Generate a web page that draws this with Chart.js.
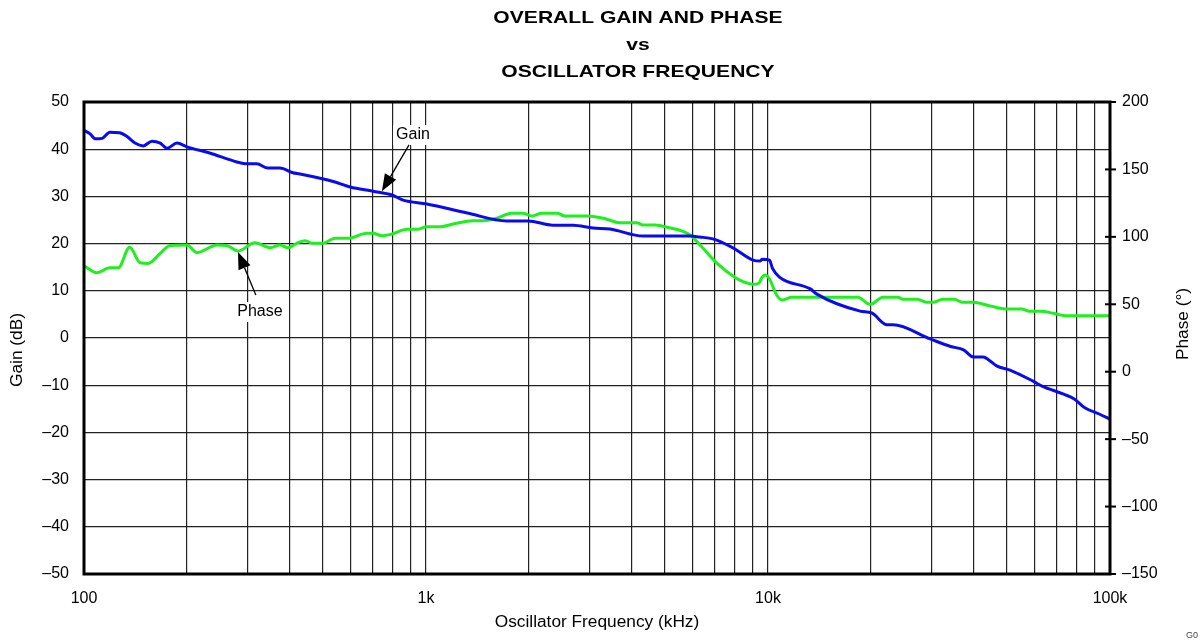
<!DOCTYPE html>
<html>
<head>
<meta charset="utf-8">
<script src="https://cdn.jsdelivr.net/npm/chart.js@4"></script>
<style>
  body { margin: 0; background: #fff; }
  #wrap { width: 1198px; height: 642px; }
</style>
</head>
<body>
<div id="wrap"><canvas id="myChart"></canvas></div>
<script>
// data (frequency in Hz)
const gainFreq = [100, 104, 108, 113, 119, 127, 133, 141, 149, 158, 167, 175, 187, 200, 233, 280, 300, 320, 345, 374, 408, 428, 542, 600, 700, 795, 857, 1006, 1320, 1720, 1990, 2350, 2690, 3080, 3450, 4310, 5920, 6300, 6900, 7900, 9040, 9500, 9600, 10100, 10300, 10800, 13300, 13900, 18600, 20100, 22300, 23200, 29800, 34200, 37300, 39800, 42600, 44300, 46600, 51000, 59400, 63300, 73200, 78600, 84400, 93000, 100000];
const gainDb = [44.0, 43.3, 42.2, 42.3, 43.6, 43.5, 42.8, 41.3, 40.7, 41.7, 41.3, 40.2, 41.3, 40.5, 39.2, 37.3, 36.9, 36.9, 36.0, 36.0, 35.0, 34.75, 33.05, 32.0, 31.1, 30.3, 29.2, 28.4, 26.5, 24.8, 24.8, 23.9, 23.9, 23.3, 23.1, 21.6, 21.6, 21.4, 21.0, 19.1, 16.5, 16.3, 16.7, 16.5, 14.8, 12.9, 10.4, 9.3, 5.7, 5.3, 2.8, 2.8, -0.2, -1.8, -2.5, -4.0, -4.0, -4.7, -5.9, -6.8, -9.1, -10.2, -11.9, -12.9, -14.8, -16.1, -17.2];

const phaseFreq = [100, 109, 119, 126, 136, 146, 154, 167, 178, 200, 214, 245, 262, 282, 316, 350, 374, 395, 422, 443, 467, 500, 542, 591, 672, 700, 743, 795, 880, 941, 1006, 1100, 1200, 1370, 1470, 1610, 1780, 1920, 2040, 2180, 2430, 2540, 2960, 3300, 3690, 4140, 4310, 4680, 5070, 5920, 6300, 7100, 8000, 8450, 9040, 9400, 9600, 9820, 10100, 10600, 11000, 11750, 13900, 18300, 19900, 21700, 24000, 24800, 27300, 29200, 30400, 32400, 35100, 37000, 39800, 44300, 49900, 55100, 58200, 62500, 68400, 74000, 81900, 100000];
const phaseDeg = [78.6, 73.4, 77.1, 77.1, 92.3, 80.8, 80.3, 87.8, 93.5, 94, 88.3, 94, 93.5, 89.5, 95.7, 92, 94, 92, 95.7, 97.2, 95.2, 95.2, 98.9, 98.9, 102.6, 102.6, 100.9, 102.1, 105.6, 105.6, 107.5, 107.5, 109.5, 112, 112, 113.8, 117.5, 117.5, 115.5, 117.5, 117.5, 115.5, 115.5, 113.8, 110.5, 110.5, 108.8, 108.8, 107.1, 101.4, 94.5, 80.4, 70, 66.8, 64.8, 65.6, 70, 71.7, 68.8, 56.9, 53.2, 55.2, 55.2, 55.2, 50, 55.2, 55.2, 53.7, 53.7, 51.5, 51.5, 53.7, 53.7, 51.5, 51.5, 49, 46.5, 46.5, 44.8, 44.8, 43.3, 41.5, 41.5, 41.5];

// grid lines on the frequency axis and their labels
const freqGrid = [100, 200, 300, 400, 500, 600, 700, 800, 900, 1000, 2000, 3000, 4000, 5000, 6000, 7000, 8000, 9000, 10000, 20000, 30000, 40000, 50000, 60000, 70000, 80000, 90000, 100000];
const freqLabels = { 100: '100', 1000: '1k', 10000: '10k', 100000: '100k' };

const titleLines = ['OVERALL GAIN AND PHASE', 'vs', 'OSCILLATOR FREQUENCY'];

// callouts: [text, text x/y, arrow tail x/y, arrow tip x/y] in data units (Hz, dB)
const callouts = [
  ['Gain', 916, 43.0, 892, 40.9, 743, 31.1],
  ['Phase', 327, 5.5, 318, 9.1, 282, 18.2]
];

const FONT = '"Liberation Sans", Arial, sans-serif';

function minusSign(v) {
  return v < 0 ? '\u2013' + Math.abs(v) : '' + v;
}

function drawArrow(c, x1, y1, x2, y2) {
  const a = Math.atan2(y2 - y1, x2 - x1);
  const len = 17, hw = 6.5;
  const bx = x2 - len * Math.cos(a), by = y2 - len * Math.sin(a);
  c.beginPath();
  c.moveTo(x1, y1);
  c.lineTo(bx, by);
  c.strokeStyle = '#000';
  c.lineWidth = 1.3;
  c.stroke();
  c.beginPath();
  c.moveTo(x2, y2);
  c.lineTo(bx + hw * Math.sin(a), by - hw * Math.cos(a));
  c.lineTo(bx - hw * Math.sin(a), by + hw * Math.cos(a));
  c.closePath();
  c.fillStyle = '#000';
  c.fill();
}

// text a bit wider than the font, like the original
function wideText(c, s, x, y, sx) {
  c.save();
  c.translate(x, y);
  c.scale(sx, 1);
  c.fillText(s, 0, 0);
  c.restore();
}

const decorations = {
  id: 'decorations',
  afterDatasetsDraw(chart) {
    const c = chart.ctx;
    const area = chart.chartArea;
    const x = chart.scales.x, y = chart.scales.y, y1 = chart.scales.y1;
    c.save();

    // callouts
    c.font = '16px ' + FONT;
    c.textAlign = 'center';
    c.textBaseline = 'middle';
    callouts.forEach(function (k) {
      const tx = x.getPixelForValue(k[1]), ty = y.getPixelForValue(k[2]);
      const w = c.measureText(k[0]).width;
      c.fillStyle = '#fff';
      c.fillRect(tx - w / 2 - 3, ty - 10, w + 6, 20);
      c.fillStyle = '#000';
      c.fillText(k[0], tx, ty);
      drawArrow(c, x.getPixelForValue(k[3]), y.getPixelForValue(k[4]),
        x.getPixelForValue(k[5]), y.getPixelForValue(k[6]));
    });

    // frame
    c.strokeStyle = '#000';
    c.lineWidth = 3;
    c.strokeRect(area.left, area.top, area.right - area.left, area.bottom - area.top);

    // right axis tick marks crossing the frame
    c.lineWidth = 2;
    y1.ticks.forEach(function (t) {
      const py = y1.getPixelForValue(t.value);
      c.beginPath();
      c.moveTo(area.right - 5, py);
      c.lineTo(area.right + 6, py);
      c.stroke();
    });

    // title
    c.fillStyle = '#000';
    c.font = 'bold 17px ' + FONT;
    c.textAlign = 'center';
    c.textBaseline = 'middle';
    const cx = (area.left + area.right) / 2 + 41;
    titleLines.forEach(function (s, i) {
      wideText(c, s, cx, 18 + i * 27, 1.24);
    });

    // axis titles
    c.font = '16px ' + FONT;
    wideText(c, 'Oscillator Frequency (kHz)', (area.left + area.right) / 2, 623, 1.08);
    c.save();
    c.translate(18, 350);
    c.rotate(-Math.PI / 2);
    c.scale(1.08, 1);
    c.fillText('Gain (dB)', 0, 0);
    c.restore();
    c.save();
    c.translate(1184, 324);
    c.rotate(-Math.PI / 2);
    c.scale(1.08, 1);
    c.fillText('Phase (\u00b0)', 0, 0);
    c.restore();

    // figure code, clipped at the edge
    c.font = '9px ' + FONT;
    c.fillStyle = '#444';
    c.textAlign = 'left';
    c.fillText('G005', 1186, 636);
    c.restore();
  }
};

const ctx = document.getElementById('myChart');

const myChart = new Chart(ctx, {
  type: 'line',
  data: {
    datasets: [{
      label: 'Gain',
      data: gainFreq.map((f, i) => ({ x: f, y: gainDb[i] })),
      borderColor: '#0a0aee',
      borderWidth: 3,
      pointRadius: 0,
      cubicInterpolationMode: 'monotone',
      yAxisID: 'y'
    }, {
      label: 'Phase',
      data: phaseFreq.map((f, i) => ({ x: f, y: phaseDeg[i] })),
      borderColor: '#1ef01e',
      borderWidth: 3,
      pointRadius: 0,
      cubicInterpolationMode: 'monotone',
      yAxisID: 'y1'
    }]
  },
  options: {
    responsive: true,
    maintainAspectRatio: false,
    animation: false,
    layout: { padding: { top: 102, left: 0, right: 0, bottom: 0 } },
    plugins: {
      legend: { display: false },
      tooltip: { enabled: false }
    },
    scales: {
      x: {
        type: 'logarithmic',
        min: 100,
        max: 100000,
        afterBuildTicks: function (scale) {
          scale.ticks = freqGrid.map(v => ({ value: v }));
        },
        afterFit: function (scale) { scale.height = 68; },
        ticks: {
          autoSkip: false,
          maxRotation: 0,
          padding: 15,
          color: '#000',
          font: { family: FONT, size: 16 },
          callback: function (v) { return freqLabels[v] || ''; }
        },
        grid: { color: '#222', lineWidth: 1.2, drawTicks: false },
        border: { display: false }
      },
      y: {
        position: 'left',
        min: -50,
        max: 50,
        afterFit: function (scale) { scale.width = 84; },
        ticks: {
          stepSize: 10,
          padding: 15,
          color: '#000',
          font: { family: FONT, size: 16 },
          callback: function (v) { return minusSign(v); }
        },
        grid: { color: '#222', lineWidth: 1.2, drawTicks: false },
        border: { display: false }
      },
      y1: {
        position: 'right',
        min: -150,
        max: 200,
        afterFit: function (scale) { scale.width = 88; },
        ticks: {
          stepSize: 50,
          padding: 12,
          color: '#000',
          font: { family: FONT, size: 16 },
          callback: function (v) { return minusSign(v); }
        },
        grid: { display: false, drawTicks: false },
        border: { display: false }
      }
    }
  },
  plugins: [decorations]
});
</script>
</body>
</html>
